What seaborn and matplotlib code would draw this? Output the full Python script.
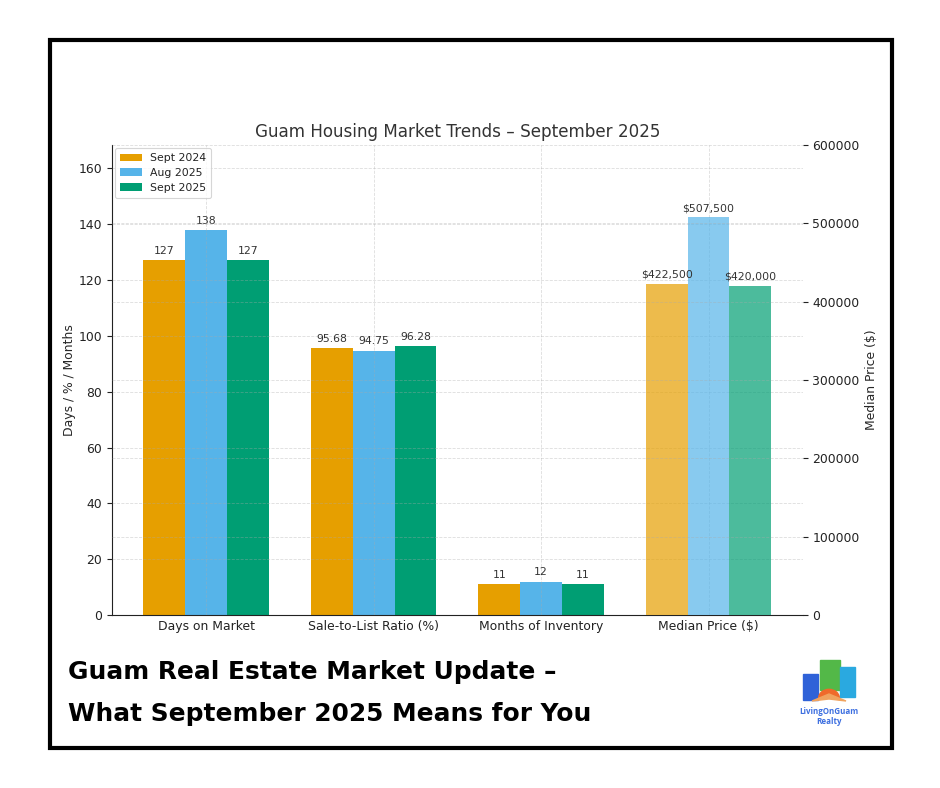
import matplotlib
matplotlib.use("Agg")
import matplotlib.pyplot as plt
import seaborn as sns
import pandas as pd
from matplotlib.patches import Rectangle, Wedge, Polygon

# ---------------- data ----------------
categories = ["Days on Market", "Sale-to-List Ratio (%)", "Months of Inventory", "Median Price ($)"]
periods = ["Sept 2024", "Aug 2025", "Sept 2025"]
days_on_market = [127, 138, 127]
sale_to_list = [95.68, 94.75, 96.28]
months_inventory = [11, 12, 11]
median_price = [422500, 507500, 420000]
left_ticks = [0, 20, 40, 60, 80, 100, 120, 140, 160]
right_ticks = [0, 100000, 200000, 300000, 400000, 500000, 600000]

colors = ["#E69F00", "#56B4E9", "#009E73"]

rows = []
for cat, vals in zip(categories[:3], [days_on_market, sale_to_list, months_inventory]):
    for p, v in zip(periods, vals):
        rows.append({"Metric": cat, "Period": p, "Value": v})
df_left = pd.DataFrame(rows)
df_right = pd.DataFrame({"Metric": [categories[3]] * 3, "Period": periods, "Value": median_price})

sns.set_style("white")
plt.rcParams["font.family"] = ["DejaVu Sans"]

fig = plt.figure(figsize=(9.4, 7.88), dpi=100)
ax = fig.add_axes([0.119, 0.2195, 0.735, 0.5965])

sns.barplot(data=df_left, x="Metric", y="Value", hue="Period", order=categories,
            hue_order=periods, palette=colors, width=0.75, ax=ax, saturation=1,
            errorbar=None, linewidth=0)
ax2 = ax.twinx()
sns.barplot(data=df_right, x="Metric", y="Value", hue="Period", order=categories,
            hue_order=periods, palette=colors, width=0.75, ax=ax2, saturation=1,
            errorbar=None, alpha=0.7, linewidth=0, legend=False)

# labels
for cont, vals in zip(ax.containers, zip(*[days_on_market, sale_to_list, months_inventory])):
    labs = [f"{v:g}" for v in vals] + [""]
    ax.bar_label(cont, labels=labs[:len(cont)], padding=3, fontsize=7.8, color="#333333")
for cont, v in zip(ax2.containers, median_price):
    ax2.bar_label(cont, labels=[f"${v:,.0f}"] * len(cont), padding=3, fontsize=7.8, color="#333333")

ax.set_xlim(-0.5625, 3.5625)
ax.set_ylim(0, 138 * 1.22)
ax2.set_ylim(0, 600000)
ax.set_yticks(left_ticks)
ax2.set_yticks(right_ticks)
ax2.set_yticklabels([str(t) for t in right_ticks])

ax.set_xlabel("")
ax.set_ylabel("Days / % / Months", fontsize=8.9, labelpad=2)
ax2.set_ylabel("Median Price ($)", fontsize=8.9)
ax2.set_xlabel("")
ax.set_title("Guam Housing Market Trends – September 2025", fontsize=12.1, color="#333333", pad=6)

for a in (ax, ax2):
    a.tick_params(labelsize=8.9, colors="#222222", length=3.5, width=0.8)
    for s in ["top", "right", "left", "bottom"]:
        a.spines[s].set_visible(False)
ax.spines["left"].set_visible(True)
ax.spines["bottom"].set_visible(True)
ax.spines["left"].set_color("#222222")
ax.spines["bottom"].set_color("#222222")
ax.tick_params(axis="x", length=3.5, direction="in")
ax.tick_params(axis="y", left=True, direction="out")
ax2.tick_params(axis="y", right=True, direction="out")

ax.set_axisbelow(False)
ax2.set_axisbelow(False)
ax.grid(True, axis="both", linestyle="--", color="#aaaaaa", alpha=0.4, linewidth=0.6)
ax2.grid(True, axis="y", linestyle="--", color="#aaaaaa", alpha=0.4, linewidth=0.6)

leg = ax.legend(loc="upper left", fontsize=7.8, frameon=True, handlelength=2.0,
                borderpad=0.45, labelspacing=0.45, borderaxespad=0.3,
                bbox_to_anchor=(0.0, 1.0))
leg.get_frame().set_edgecolor("#cccccc")
leg.get_frame().set_linewidth(0.8)
for t in leg.get_texts():
    t.set_color("#222222")

# ---------------- frame & captions ----------------
fig.patches.append(Rectangle((0.0532, 0.0508), 0.896, 0.898, transform=fig.transFigure,
                             fill=False, edgecolor="black", linewidth=3.0, zorder=10))

fig.text(0.072, 0.147, "Guam Real Estate Market Update –", fontsize=17.9, fontweight="bold",
         family="DejaVu Sans", va="center", ha="left", color="black")
fig.text(0.072, 0.094, "What September 2025 Means for You", fontsize=17.9, fontweight="bold",
         family="DejaVu Sans", va="center", ha="left", color="black")

# logo (simplified)
T = fig.transFigure
def px(x, y):
    return (x / 940, 1 - y / 788)
fig.patches.append(Rectangle(px(803, 700), 15 / 940, 26 / 788, transform=T, color="#2f62d8"))
fig.patches.append(Rectangle(px(820, 690), 20 / 940, 30 / 788, transform=T, color="#53b848"))
fig.patches.append(Rectangle(px(840, 697), 15 / 940, 30 / 788, transform=T, color="#2aa9e0"))
fig.patches.append(Wedge(px(829, 698), 0.011, 0, 180, transform=T, color="#ef6a2a"))
fig.patches.append(Polygon([px(812, 701), px(829, 694), px(846, 701), px(829, 699)],
                           closed=True, transform=T, color="#f0a35e"))
fig.text(829 / 940, 1 - 711 / 788, "LivingOnGuam", fontsize=5.8, fontweight="bold",
         color="#3d6fe0", ha="center", va="center", family="Open Sans")
fig.text(829 / 940, 1 - 722 / 788, "Realty", fontsize=5.8, fontweight="bold",
         color="#3d6fe0", ha="center", va="center", family="Open Sans")

fig.savefig("out.png", dpi=100, facecolor="white")
